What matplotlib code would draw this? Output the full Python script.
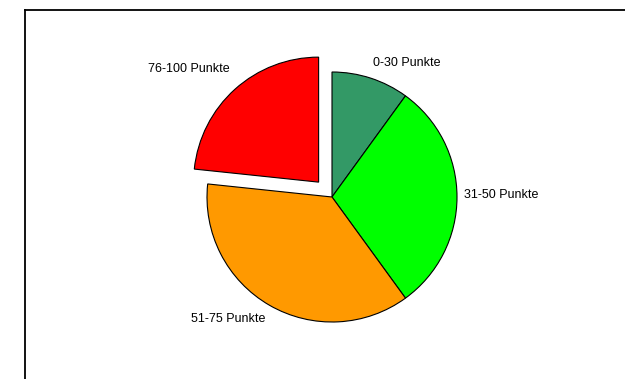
import matplotlib
matplotlib.use("Agg")
import matplotlib.pyplot as plt
from matplotlib.lines import Line2D

plt.rcParams['font.family'] = ['Liberation Sans', 'DejaVu Sans']

# --- Daten ---
labels = ['0-30 Punkte', '31-50 Punkte', '51-75 Punkte', '76-100 Punkte']
values = [3, 9, 11, 7]
colors = ['#339966', '#00FF00', '#FF9900', '#FF0000']
explode = [0, 0, 0, 0.16]
# kleine Verschiebung der Beschriftungen (y) wie im Original
label_dy = [0.06, 0.016, -0.056, 0.12]

fig = plt.figure(figsize=(6.25, 3.79), dpi=100)
ax = fig.add_axes([0, 0, 1, 1])

wedges, texts = ax.pie(values, labels=labels, colors=colors, explode=explode,
                       startangle=90, counterclock=False, radius=1,
                       labeldistance=1.06,
                       wedgeprops=dict(edgecolor='black', linewidth=0.8),
                       textprops=dict(fontsize=9, color='black'))

for t, dy in zip(texts, label_dy):
    x, y = t.get_position()
    t.set_position((x, y + dy))

# 1 Einheit = 125 px, Mittelpunkt bei (332, 197) px
ax.set_xlim(-332 / 125, (625 - 332) / 125)
ax.set_ylim(-(379 - 197) / 125, 197 / 125)
ax.set_aspect('equal')
ax.axis('off')

# Rahmen (nur links und oben sichtbar)
x0 = 24.5 / 625
y0 = 1 - 9.5 / 379
fig.add_artist(Line2D([x0, x0], [0, y0], color='black', linewidth=1.3))
fig.add_artist(Line2D([x0, 1], [y0, y0], color='black', linewidth=1.3))

fig.savefig('out.png', dpi=100)
